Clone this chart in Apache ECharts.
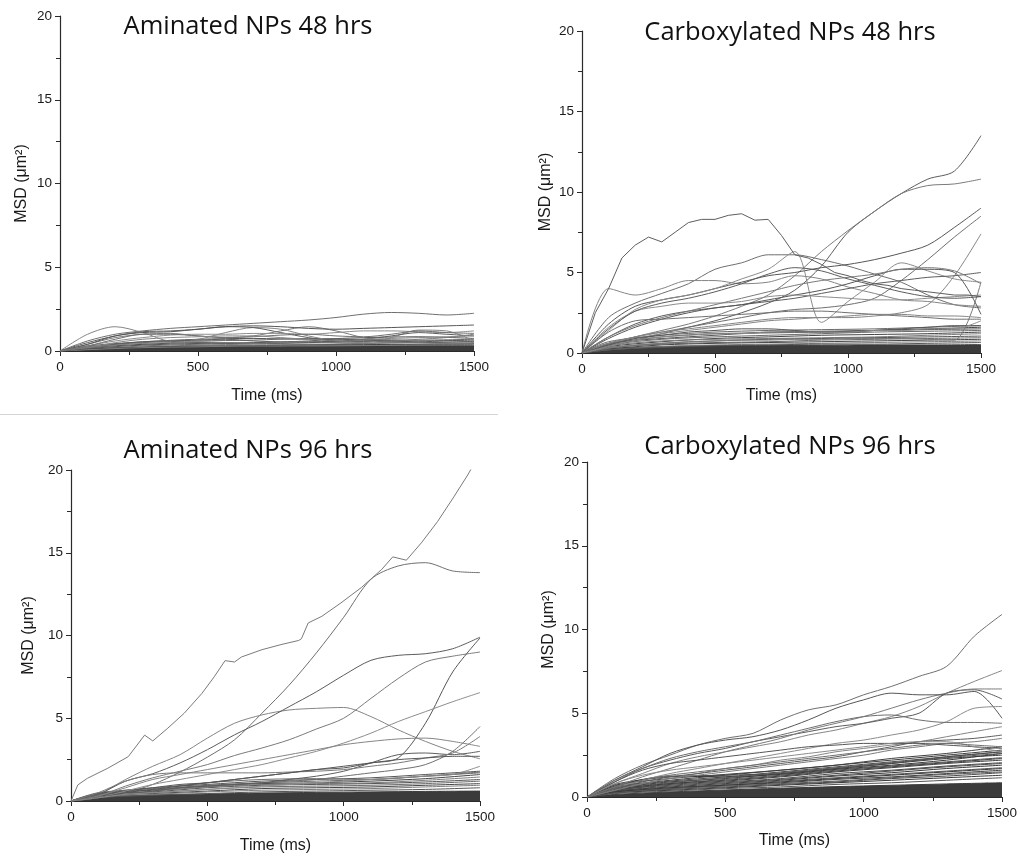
<!DOCTYPE html>
<html>
<head>
<meta charset="utf-8">
<script src="https://cdn.jsdelivr.net/npm/echarts@6/dist/echarts.min.js"></script>
<style>
  html, body { margin: 0; padding: 0; background: #fff; }
  #chart { width: 1020px; height: 856px; }
</style>
</head>
<body>
<div id="chart"></div>
<script>
// ---- time bases (ms) ----
const timeGrid = [0,100,200,300,400,500,600,700,800,900,1000,1100,1200,1300,1400,1500];
const bgTime = [0,100,300,500,700,900,1100,1300,1500];
const fineTime = [0,50,100,150,200,250,300,350,400,450,500,550,600,650,700,750,800,850,900,950,1000,1050,1100,1150,1200,1250,1300,1350,1400,1450,1500];

const panelTitles = ['Aminated NPs 48 hrs', 'Carboxylated NPs 48 hrs', 'Aminated NPs 96 hrs', 'Carboxylated NPs 96 hrs'];
const xTickValues = [0, 500, 1000, 1500];
const yTickValues = [0, 5, 10, 15, 20];

// ---- Aminated NPs, 48 hrs: MSD (um^2) per particle ----
const am48Tracks = [
  [0,0.6,1.0,1.2,1.35,1.45,1.55,1.65,1.75,1.85,2.0,2.2,2.3,2.25,2.15,2.25],
  [0,1.0,1.45,1.1,0.6,0.7,1.1,1.4,1.3,0.9,0.6,0.5,0.8,1.25,1.2,0.6],
  [0,0.5,0.9,1.15,1.2,1.3,1.45,1.4,1.1,0.8,0.6,0.7,0.9,1.1,1.0,0.9],
  [0,0.4,0.8,1.0,1.05,0.9,0.8,0.9,1.2,1.45,1.2,0.8,0.6,0.7,0.8,1.0],
  [0,0.4,0.9,1.1,1.15,1.3,1.45,1.5,1.45,1.35,1.3,1.35,1.4,1.45,1.5,1.55],
  [0,0.3,0.6,0.8,0.95,1.0,1.0,1.05,1.05,1.0,1.1,1.2,1.2,1.15,1.1,1.2],
  [0,0.3,0.7,1.0,1.0,0.9,0.8,0.85,0.95,1.0,0.9,0.85,1.0,1.2,1.1,1.05],
  [0,0.2,0.5,0.7,0.8,0.85,0.9,0.9,0.8,0.7,0.65,0.7,0.75,0.8,0.85,0.9],
  [0,0.15,0.4,0.55,0.6,0.65,0.7,0.6,0.55,0.6,0.7,0.65,0.6,0.55,0.6,0.55],
  [0,0.2,0.35,0.45,0.5,0.55,0.5,0.45,0.5,0.55,0.5,0.45,0.5,0.5,0.45,0.5]
];
const am48Background = [
  [0,0.15,0.35,0.45,0.5,0.55,0.6,0.6,0.65],
  [0,0.1,0.3,0.4,0.45,0.4,0.45,0.5,0.55],
  [0,0.2,0.4,0.5,0.45,0.5,0.55,0.5,0.45],
  [0,0.1,0.25,0.35,0.4,0.4,0.35,0.4,0.45],
  [0,0.3,0.55,0.7,0.75,0.7,0.8,0.85,0.75],
  [0,0.25,0.5,0.6,0.65,0.75,0.7,0.65,0.7],
  [0,0.12,0.22,0.3,0.32,0.35,0.38,0.4,0.4],
  [0,0.08,0.2,0.25,0.3,0.3,0.32,0.35,0.35]
];
const am48Floor = [0,0.12,0.22,0.26,0.28,0.3,0.31,0.32,0.33];

// ---- Carboxylated NPs, 48 hrs ----
const carb48Peak = [0,2.5,4.0,5.9,6.7,7.2,6.9,7.5,8.1,8.3,8.3,8.55,8.65,8.25,8.3,7.3,6.1,5.9,5.5,5.0,4.8,4.5,4.3,4.2,4.0,3.9,3.8,3.7,3.6,3.6,3.5];
const carb48Tracks = [
  [0,2.2,3.1,3.7,4.3,5.2,5.6,6.1,6.1,5.8,5.4,4.9,4.4,3.6,3.0,2.8],
  [0,4.0,3.6,4.0,4.5,4.5,4.3,4.4,4.8,4.6,4.1,3.7,3.3,3.2,3.0,2.9],
  [0,0.4,0.8,1.2,1.6,2.0,2.5,3.1,3.9,5.4,7.5,8.8,9.9,10.8,11.3,13.5],
  [0,0.5,1.0,1.4,1.8,2.3,2.9,3.6,4.8,6.3,7.6,8.8,9.9,10.4,10.5,10.8],
  [0,1.8,2.9,3.3,3.6,4.0,4.4,4.8,5.0,5.3,5.5,5.8,6.2,6.7,7.8,9.0],
  [0,1.4,2.7,3.3,3.6,4.0,4.6,5.2,6.3,1.9,3.2,4.4,5.6,5.1,4.6,4.4],
  [0,0.6,1.0,1.3,1.6,1.9,2.2,2.5,2.7,2.8,3.0,3.4,4.5,5.8,7.2,8.5],
  [0,0.5,0.9,1.2,1.4,1.6,1.8,2.0,2.1,2.2,2.2,2.3,2.5,3.0,4.8,7.4],
  [0,1.0,1.8,2.3,2.6,2.8,3.0,3.2,3.4,3.7,4.0,4.3,4.5,4.7,4.8,5.0],
  [0,0.3,0.5,0.6,0.7,0.75,0.8,0.8,0.85,0.85,0.9,0.9,0.9,0.85,0.8,4.4],
  [0,0.9,1.6,2.1,2.5,2.8,3.0,3.3,3.6,3.9,4.3,4.8,5.2,5.2,5.0,2.4],
  [0,1.6,2.6,2.9,3.1,3.1,3.2,3.5,3.6,3.5,3.4,3.3,3.3,3.4,3.5,3.6],
  [0,1.3,2.0,2.1,2.2,2.3,2.4,2.5,2.6,2.6,2.5,2.4,2.3,2.2,2.1,2.1],
  [0,0.6,1.0,1.3,1.5,1.7,1.9,2.1,2.2,2.2,2.3,2.4,2.4,2.3,2.3,2.2],
  [0,1.5,2.6,3.1,3.4,3.8,4.3,4.9,5.3,5.1,4.6,4.2,3.8,3.5,3.4,3.5],
  [0,1.0,1.7,2.2,2.6,3.0,3.4,3.8,4.2,4.5,4.7,4.9,5.2,5.3,5.1,4.3],
  [0,0.5,0.9,1.1,1.3,1.4,1.5,1.5,1.4,1.3,1.3,1.4,1.5,1.6,1.7,1.7],
  [0,0.4,0.8,1.0,1.1,1.2,1.2,1.3,1.3,1.3,1.3,1.4,1.4,1.5,1.5,2.0]
];
const carb48Background = [
  [0,0.6,0.9,1.1,1.3,1.35,1.4,1.45,1.5],
  [0,0.5,0.85,1.0,1.1,1.2,1.3,1.35,1.4],
  [0,0.4,0.7,0.9,1.0,1.1,1.15,1.2,1.3],
  [0,0.45,0.75,0.85,0.9,0.95,1.0,1.1,1.2],
  [0,0.3,0.6,0.75,0.85,0.9,0.95,1.0,1.05],
  [0,0.35,0.55,0.65,0.7,0.8,0.85,0.9,0.95],
  [0,0.25,0.5,0.6,0.65,0.7,0.75,0.8,0.85],
  [0,0.2,0.4,0.5,0.55,0.6,0.65,0.7,0.75],
  [0,0.2,0.35,0.45,0.5,0.55,0.55,0.6,0.65],
  [0,0.7,1.1,1.3,1.4,1.45,1.5,1.6,1.7],
  [0,0.55,1.0,1.2,1.25,1.3,1.4,1.5,1.6]
];
const carb48Floor = [0,0.25,0.4,0.45,0.47,0.48,0.5,0.5,0.52];

// ---- Aminated NPs, 96 hrs ----
const am96FastTime = [0,25,60,135,210,270,300,355,415,480,525,565,600,625,700,770,835,845,870,920,990,1065,1140,1180,1230,1285,1345,1405,1455,1500];
const am96FastMsd = [0,0.97,1.37,1.98,2.68,3.98,3.63,4.4,5.3,6.5,7.5,8.48,8.4,8.7,9.14,9.45,9.7,9.8,10.76,11.16,11.97,12.9,14.0,14.75,14.55,15.6,16.9,18.4,19.7,21.0];
const am96Tracks = [
  [0,0.2,0.5,1.0,1.75,2.65,3.7,5.3,7.0,8.95,11.1,13.4,14.2,14.4,13.9,13.8],
  [0,0.4,1.3,2.1,2.8,3.8,4.7,5.2,5.5,5.6,5.65,5.1,4.3,3.6,3.0,2.55],
  [0,0.4,1.2,1.65,2.3,3.1,4.0,4.8,5.7,6.6,7.6,8.5,8.8,8.9,9.2,9.9],
  [0,0.3,0.9,1.4,1.8,2.2,2.75,3.2,3.7,4.35,5.0,6.2,7.4,8.4,8.75,9.0],
  [0,0.3,0.6,0.8,1.0,1.1,1.3,1.5,1.7,1.9,2.0,2.3,2.6,4.7,7.8,9.85],
  [0,0.2,0.6,1.0,1.3,1.6,1.9,2.2,2.6,3.0,3.5,4.1,4.8,5.4,6.0,6.55],
  [0,0.2,0.4,0.6,0.8,0.9,1.0,1.1,1.2,1.3,1.5,1.7,1.9,2.2,3.0,4.5],
  [0,0.3,0.8,1.3,1.6,1.9,2.2,2.5,2.8,3.1,3.4,3.6,3.75,3.8,3.6,3.3],
  [0,0.2,0.4,0.6,0.8,0.9,1.0,1.1,1.3,1.5,1.8,2.3,2.8,2.9,2.8,3.0],
  [0,0.5,1.2,1.6,1.7,1.7,1.7,1.7,1.75,1.8,1.9,2.1,2.3,2.6,2.9,3.9],
  [0,0.2,0.5,0.7,0.9,1.1,1.3,1.5,1.7,1.9,2.1,2.3,2.5,2.6,2.7,2.7],
  [0,0.2,0.4,0.5,0.6,0.7,0.8,0.9,1.0,1.1,1.2,1.3,1.4,1.5,1.6,2.1]
];
const am96Background = [
  [0,0.45,0.8,1.0,1.2,1.3,1.4,1.6,1.8],
  [0,0.4,0.7,0.95,1.1,1.2,1.3,1.5,1.75],
  [0,0.45,0.65,0.9,1.05,1.1,1.2,1.35,1.6],
  [0,0.35,0.6,0.85,1.0,1.05,1.1,1.25,1.45],
  [0,0.4,0.55,0.8,0.95,1.0,1.05,1.15,1.3],
  [0,0.3,0.5,0.7,0.85,0.9,0.95,1.05,1.2],
  [0,0.3,0.45,0.6,0.75,0.8,0.85,0.95,1.05],
  [0,0.25,0.4,0.55,0.65,0.7,0.75,0.85,0.95],
  [0,0.2,0.35,0.45,0.55,0.6,0.65,0.7,0.8],
  [0,0.5,0.75,1.1,1.3,1.35,1.3,1.5,1.7]
];
const am96Floor = [0,0.25,0.35,0.42,0.48,0.52,0.55,0.58,0.6];

// ---- Carboxylated NPs, 96 hrs ----
const carb96Tracks = [
  [0,1.1,1.9,2.5,3.1,3.5,3.8,4.6,5.2,5.5,6.1,6.6,7.2,7.8,9.6,10.9],
  [0,0.8,1.4,2.0,2.4,2.7,3.0,3.3,3.7,4.0,4.4,4.8,5.4,6.2,6.9,7.55],
  [0,0.9,1.7,2.2,2.6,2.9,3.3,3.6,3.9,4.2,4.4,4.7,5.0,6.2,6.4,5.85],
  [0,0.6,1.2,1.7,2.2,2.7,3.1,3.5,4.0,4.4,4.8,5.3,5.8,6.2,6.45,6.45],
  [0,1.0,1.8,2.6,3.1,3.4,3.6,4.0,4.6,5.3,5.8,6.2,6.1,6.1,6.3,4.7],
  [0,0.5,1.0,1.4,1.7,2.0,2.3,2.6,2.9,3.2,3.4,3.7,4.0,4.5,5.3,5.4],
  [0,1.0,1.7,2.3,2.7,3.0,3.3,3.7,4.1,4.5,4.8,4.9,4.6,4.45,4.45,4.4],
  [0,0.4,0.8,1.1,1.4,1.7,1.9,2.2,2.4,2.7,2.9,3.1,3.3,3.6,3.9,4.2],
  [0,0.5,0.9,1.2,1.4,1.6,1.8,2.0,2.2,2.4,2.7,3.0,3.3,3.4,3.5,3.7],
  [0,0.4,0.8,1.1,1.3,1.5,1.7,1.9,2.1,2.3,2.5,2.8,3.0,3.2,3.3,3.5],
  [0,0.9,1.6,2.0,2.2,2.4,2.6,2.8,3.0,3.1,3.2,3.2,3.2,3.1,3.0,2.9],
  [0,0.8,1.3,1.6,1.8,2.0,2.2,2.4,2.6,2.8,3.0,3.2,3.3,3.3,3.0,2.7],
  [0,0.6,1.0,1.3,1.5,1.7,1.9,2.1,2.3,2.5,2.7,2.9,3.1,3.2,3.1,3.0]
];
const carb96Background = [
  [0,0.6,1.0,1.3,1.6,1.9,2.2,2.5,2.8],
  [0,0.55,0.95,1.2,1.5,1.8,2.1,2.4,2.7],
  [0,0.5,0.9,1.1,1.4,1.7,2.0,2.3,2.5],
  [0,0.45,0.8,1.05,1.3,1.6,1.85,2.1,2.35],
  [0,0.4,0.75,0.95,1.2,1.5,1.75,2.0,2.2],
  [0,0.4,0.7,0.9,1.1,1.4,1.6,1.85,2.05],
  [0,0.35,0.6,0.8,1.0,1.25,1.45,1.7,1.9],
  [0,0.3,0.55,0.75,0.95,1.15,1.35,1.55,1.75],
  [0,0.3,0.5,0.7,0.85,1.05,1.2,1.4,1.6],
  [0,0.25,0.45,0.6,0.75,0.9,1.1,1.25,1.45],
  [0,0.25,0.4,0.55,0.7,0.85,1.0,1.15,1.3],
  [0,0.2,0.35,0.5,0.6,0.75,0.85,1.0,1.15],
  [0,0.7,1.1,1.35,1.6,1.9,2.3,2.6,3.0],
  [0,0.75,1.2,1.3,1.4,1.7,2.0,2.4,2.7],
  [0,0.65,1.25,1.2,1.35,1.65,1.9,2.2,2.6],
  [0,0.5,0.85,1.15,1.45,1.75,2.05,2.35,2.6],
  [0,0.45,0.8,1.0,1.25,1.55,1.8,2.05,2.3],
  [0,0.35,0.65,0.85,1.05,1.3,1.55,1.8,2.0],
  [0,0.3,0.55,0.7,0.9,1.1,1.3,1.5,1.7],
  [0,0.25,0.5,0.65,0.8,0.95,1.15,1.35,1.5]
];
const carb96Floor = [0,0.15,0.3,0.42,0.52,0.62,0.7,0.78,0.85];

// ---- layout of the four panels ----
const panels = [
  { grid: { left: 60,  top: 16,  width: 414, height: 335 }, titleX: 243, titleY: 9,   yGap: 30, xGap: 37, bgDark: false },
  { grid: { left: 582, top: 31,  width: 399, height: 322 }, titleX: 785, titleY: 15,  yGap: 28, xGap: 35, bgDark: false },
  { grid: { left: 71,  top: 470, width: 409, height: 331 }, titleX: 243, titleY: 433, yGap: 34, xGap: 37, bgDark: false },
  { grid: { left: 587, top: 462, width: 415, height: 335 }, titleX: 785, titleY: 429, yGap: 30, xGap: 36, bgDark: true }
];

const textColor = '#1a1a1a';
const axisColor = '#2a2a2a';
const tickFont = { color: textColor, fontSize: 13.5, fontFamily: 'Liberation Sans, Arial, sans-serif' };
const nameFont = { color: textColor, fontSize: 16, fontFamily: 'Liberation Sans, Arial, sans-serif' };

function pairs(times, values) {
  return values.map((v, i) => [times[i], v]);
}

const series = [];
function addLine(gi, times, values, color, width, smooth, area) {
  const s = {
    type: 'line',
    xAxisIndex: gi,
    yAxisIndex: gi,
    data: pairs(times, values),
    symbol: 'none',
    smooth: smooth,
    silent: true,
    lineStyle: { color: color, width: width },
    z: 2
  };
  if (area) {
    s.areaStyle = { color: color, opacity: 1 };
    s.z = 1;
  }
  series.push(s);
}

const trackColors = ['#6f6f6f', '#858585', '#5c5c5c', '#7a7a7a', '#565656', '#8c8c8c'];
const bgColors = ['#555555', '#6a6a6a', '#444444', '#7c7c7c'];
const bgDarkColors = ['#3f3f3f', '#4a4a4a', '#383838', '#555555'];
const floorColor = '#3b3b3b';

const panelData = [
  { tracks: am48Tracks, bg: am48Background, floor: am48Floor },
  { tracks: carb48Tracks, bg: carb48Background, floor: carb48Floor },
  { tracks: am96Tracks, bg: am96Background, floor: am96Floor },
  { tracks: carb96Tracks, bg: carb96Background, floor: carb96Floor }
];

panelData.forEach((pd, gi) => {
  const palette = panels[gi].bgDark ? bgDarkColors : bgColors;
  addLine(gi, bgTime, pd.floor, floorColor, 1, 0.3, true);
  pd.bg.forEach((row, k) => addLine(gi, bgTime, row, palette[k % palette.length], 1, 0.3, false));
  pd.tracks.forEach((row, k) => addLine(gi, timeGrid, row, trackColors[k % trackColors.length], 1, 0.3, false));
});
addLine(1, fineTime, carb48Peak, '#5e5e5e', 1, false, false);
addLine(2, am96FastTime, am96FastMsd, '#7a7a7a', 1, false, false);

const plainNumber = v => String(v);

const option = {
  animation: false,
  backgroundColor: '#ffffff',
  title: panels.map((p, i) => ({
    text: panelTitles[i],
    left: p.titleX,
    top: p.titleY,
    textAlign: 'center',
    textStyle: { fontFamily: 'Open Sans, Lato, sans-serif', fontSize: 25.5, fontWeight: 'normal', color: '#111' }
  })),
  grid: panels.map(p => Object.assign({ containLabel: false }, p.grid)),
  xAxis: panels.map((p, i) => ({
    type: 'value', gridIndex: i, min: xTickValues[0], max: xTickValues[xTickValues.length - 1], interval: 500,
    name: 'Time (ms)', nameLocation: 'middle', nameGap: p.xGap, nameTextStyle: nameFont,
    axisLine: { show: true, onZero: false, lineStyle: { color: axisColor, width: 1.2 } },
    axisTick: { show: true, inside: false, length: 5, lineStyle: { color: axisColor } },
    minorTick: { show: true, splitNumber: 2, length: 4, lineStyle: { color: axisColor } },
    splitLine: { show: false },
    axisLabel: Object.assign({ margin: 9, formatter: plainNumber }, tickFont)
  })),
  yAxis: panels.map((p, i) => ({
    type: 'value', gridIndex: i, min: yTickValues[0], max: yTickValues[yTickValues.length - 1], interval: 5,
    name: 'MSD (μm²)', nameLocation: 'middle', nameGap: p.yGap, nameTextStyle: nameFont,
    axisLine: { show: true, onZero: false, lineStyle: { color: axisColor, width: 1.2 } },
    axisTick: { show: true, inside: false, length: 5, lineStyle: { color: axisColor } },
    minorTick: { show: true, splitNumber: 2, length: 4, lineStyle: { color: axisColor } },
    splitLine: { show: false },
    axisLabel: Object.assign({ margin: 8, formatter: plainNumber }, tickFont)
  })),
  graphic: [
    { type: 'line', shape: { x1: 0, y1: 414.5, x2: 498, y2: 414.5 }, style: { stroke: '#d4d4d4', lineWidth: 1 }, silent: true }
  ],
  series: series
};

const chart = echarts.init(document.getElementById('chart'), null, { renderer: 'canvas' });
chart.setOption(option);
</script>
</body>
</html>
